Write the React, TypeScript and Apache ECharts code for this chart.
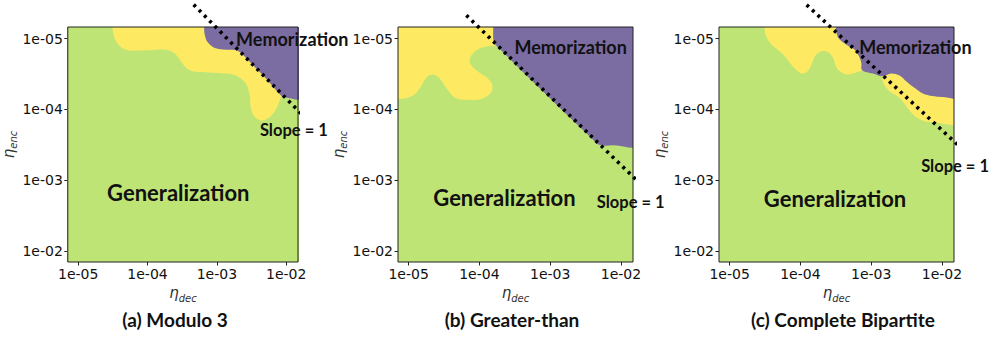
import React, { useEffect, useRef } from 'react';
import * as echarts from 'echarts';

// Axes are log10(learning rate)
const xExtent = [-5.15, -1.83];
const yExtent = [-5.165, -1.845];
const tickExponents = [-5, -4, -3, -2];
const tickLabels = ['1e-05', '1e-04', '1e-03', '1e-02'];
const panelTitles = ['(a) Modulo 3', '(b) Greater-than', '(c) Complete Bipartite'];

// Whole domain (generalization background), [log10 eta_dec, log10 eta_enc]
const domainOutline = [[-6, -6], [-1, -6], [-1, -1], [-6, -1]];

// Panel (a) Modulo 3
const purpleA = [[-3.184, -5.269], [-3.184, -5.165], [-3.175, -5.057], [-3.132, -4.948], [-3.028, -4.868], [-2.863, -4.844], [-2.722, -4.835], [-2.627, -4.774], [-2.509, -4.656], [-2.368, -4.514], [-2.226, -4.363], [-2.108, -4.231], [-2.038, -4.175], [-1.708, -4.175], [-1.708, -5.269]];
const yellowA = [[-4.528, -5.269], [-2.038, -5.269], [-2.014, -4.278], [-2.075, -4.175], [-2.123, -4.052], [-2.217, -3.91], [-2.344, -3.844], [-2.453, -3.892], [-2.509, -4.019], [-2.528, -4.208], [-2.594, -4.382], [-2.745, -4.486], [-2.981, -4.514], [-3.264, -4.528], [-3.406, -4.561], [-3.5, -4.656], [-3.604, -4.788], [-3.736, -4.844], [-4.019, -4.835], [-4.278, -4.835], [-4.406, -4.901], [-4.481, -5.024], [-4.509, -5.165]];
const slopeA = [[-3.335, -5.481], [-1.769, -3.925]];

// Panel (b) Greater-than
const purpleB = [[-3.805, -5.269], [-3.805, -5.165], [-3.8, -4.962], [-3.767, -4.906], [-2.342, -3.524], [-2.271, -3.491], [-2.107, -3.495], [-1.732, -3.509], [-1.732, -5.269]];
const yellowB = [[-5.248, -5.269], [-3.786, -5.269], [-3.786, -4.948], [-3.772, -4.906], [-3.889, -4.892], [-4.03, -4.844], [-4.123, -4.75], [-4.133, -4.656], [-4.053, -4.561], [-3.889, -4.443], [-3.819, -4.349], [-3.842, -4.231], [-3.983, -4.146], [-4.17, -4.137], [-4.334, -4.16], [-4.451, -4.278], [-4.545, -4.42], [-4.639, -4.491], [-4.733, -4.467], [-4.827, -4.325], [-4.92, -4.208], [-5.038, -4.16], [-5.131, -4.151], [-5.248, -4.151]];
const slopeB = [[-4.184, -5.33], [-1.709, -2.934]];

// Panel (c) Complete Bipartite
const purpleC = [[-3.5, -5.267], [-3.5, -5.164], [-3.49, -5.08], [-3.453, -4.995], [-3.35, -4.916], [-3.233, -4.845], [-3.172, -4.752], [-3.139, -4.658], [-3.129, -4.555], [-2.975, -4.508], [-2.843, -4.47], [-2.717, -4.508], [-2.6, -4.48], [-2.506, -4.4], [-2.389, -4.306], [-2.271, -4.226], [-2.131, -4.189], [-1.99, -4.175], [-1.615, -4.175], [-1.615, -5.267]];
const yellowC1 = [[-4.508, -5.267], [-3.35, -5.267], [-3.115, -4.564], [-3.172, -4.536], [-3.256, -4.508], [-3.35, -4.494], [-3.444, -4.541], [-3.5, -4.611], [-3.537, -4.728], [-3.608, -4.808], [-3.701, -4.822], [-3.795, -4.752], [-3.842, -4.634], [-3.912, -4.526], [-3.983, -4.508], [-4.053, -4.555], [-4.147, -4.658], [-4.264, -4.798], [-4.405, -4.916], [-4.484, -5.033], [-4.508, -5.164]];
const yellowC2 = [[-2.853, -4.475], [-2.693, -4.555], [-1.615, -4.555], [-1.615, -3.823], [-2.178, -3.823], [-2.295, -3.851], [-2.412, -3.931], [-2.506, -4.048], [-2.6, -4.166], [-2.74, -4.259], [-2.825, -4.367], [-2.848, -4.447]];
const slopeC = [[-3.912, -5.478], [-1.685, -3.415]];

// Annotation anchors (data coords)
const notesA = [
  { text: 'Memorization', x: -2.723, y: -5.0, size: 18, align: 'left' },
  { text: 'Generalization', x: -3.557, y: -2.826, size: 22, align: 'center' },
  { text: 'Slope = 1', x: -2.379, y: -3.713, size: 16.5, align: 'left' },
];
const notesB = [
  { text: 'Memorization', x: -3.505, y: -4.883, size: 18, align: 'left' },
  { text: 'Generalization', x: -3.646, y: -2.755, size: 22, align: 'center' },
  { text: 'Slope = 1', x: -2.342, y: -2.699, size: 16.5, align: 'left' },
];
const notesC = [
  { text: 'Memorization', x: -3.17, y: -4.883, size: 18, align: 'left' },
  { text: 'Generalization', x: -3.511, y: -2.737, size: 22, align: 'center' },
  { text: 'Slope = 1', x: -2.294, y: -3.208, size: 16.5, align: 'left' },
];

const panels = [
  { yellow: [yellowA], purple: purpleA, slope: slopeA, notes: notesA },
  { yellow: [yellowB], purple: purpleB, slope: slopeB, notes: notesB },
  { yellow: [yellowC1, yellowC2], purple: purpleC, slope: slopeC, notes: notesC },
];

const GREEN = '#bfe476';
const YELLOW = '#fde962';
const PURPLE = '#7b6ca1';

const gridLefts = [63, 398, 719];
const GRID_TOP = 27;
const GRID_SIZE = 235;
const titleCenters = [175, 512, 843];
const TITLE_Y = 319;
const BOLD = 'Lato, "Open Sans", sans-serif';
const DEJAVU = 'DejaVu Sans';

function regionSeries(gi: number, points: number[][], color: string, smooth: number) {
  return {
    type: 'custom',
    coordinateSystem: 'cartesian2d',
    xAxisIndex: gi,
    yAxisIndex: gi,
    clip: true,
    silent: true,
    z: 2,
    data: [[-3.5, -3.5]],
    renderItem: (params: any, api: any) => ({
      type: 'polygon',
      shape: { points: points.map((p) => api.coord(p)), smooth },
      style: { fill: color, stroke: null },
    }),
  };
}

const axisName = (sub: string) => ({
  name: `{e|η}{s|${sub}}`,
  nameLocation: 'middle',
  nameTextStyle: {
    rich: {
      e: { fontFamily: DEJAVU, fontStyle: 'italic', fontSize: 15, color: '#333', lineHeight: 20, verticalAlign: 'middle' },
      s: { fontFamily: DEJAVU, fontStyle: 'italic', fontSize: 10, color: '#333', lineHeight: 14, verticalAlign: 'bottom' },
    },
  },
});

const tickFmt = (v: number) => {
  const i = tickExponents.indexOf(Math.round(v));
  return i >= 0 ? tickLabels[i] : '';
};

function buildOption() {
  const grid: any[] = [];
  const xAxis: any[] = [];
  const yAxis: any[] = [];
  const series: any[] = [];
  panels.forEach((p, i) => {
    grid.push({
      left: gridLefts[i], top: GRID_TOP, width: GRID_SIZE, height: GRID_SIZE,
      show: true, z: 10, backgroundColor: 'transparent', borderColor: '#222', borderWidth: 1,
    });
    const common = {
      gridIndex: i,
      type: 'value',
      axisLine: { show: false },
      splitLine: { show: false },
      axisTick: { show: true, customValues: tickExponents, length: 3.5, lineStyle: { color: '#222', width: 1 } },
      axisLabel: {
        customValues: tickExponents, formatter: tickFmt,
        fontFamily: DEJAVU, fontSize: 14, color: '#111', margin: 5,
      },
    };
    xAxis.push({ ...common, min: xExtent[0], max: xExtent[1], ...axisName('dec'), nameGap: 16 });
    yAxis.push({ ...common, min: yExtent[0], max: yExtent[1], inverse: true, ...axisName('enc'), nameGap: 37 });

    series.push(regionSeries(i, domainOutline, GREEN, 0));
    p.yellow.forEach((y) => series.push(regionSeries(i, y, YELLOW, 0.35)));
    series.push(regionSeries(i, p.purple, PURPLE, 0.35));
    series.push({
      type: 'line', xAxisIndex: i, yAxisIndex: i, data: p.slope, symbol: 'none', clip: false, silent: true, z: 12,
      lineStyle: { color: '#000', width: 3.6, type: [3, 4.5], cap: 'butt' },
    });
    const notes = p.notes;
    series.push({
      type: 'custom', coordinateSystem: 'cartesian2d', xAxisIndex: i, yAxisIndex: i, clip: false, silent: true, z: 15,
      data: notes.map((n) => [n.x, n.y]),
      renderItem: (params: any, api: any) => {
        const n = notes[params.dataIndex];
        const pt = api.coord([api.value(0), api.value(1)]);
        return {
          type: 'text', x: pt[0], y: pt[1],
          style: { text: n.text, fill: '#111', fontFamily: BOLD, fontWeight: 'bold', fontSize: n.size, align: n.align, verticalAlign: 'middle' },
        };
      },
    });
  });

  const graphic = panelTitles.map((t, i) => ({
    type: 'text', x: titleCenters[i], y: TITLE_Y, z: 20,
    style: { text: t, fill: '#111', fontFamily: BOLD, fontWeight: 'bold', fontSize: 19, align: 'center', verticalAlign: 'middle' },
  }));

  return { animation: false, backgroundColor: '#fff', grid, xAxis, yAxis, series, graphic };
}

export default function App() {
  const ref = useRef<HTMLDivElement>(null);
  useEffect(() => {
    if (!ref.current) return;
    const chart = echarts.init(ref.current, undefined, { renderer: 'svg' });
    chart.setOption(buildOption() as any);
    return () => chart.dispose();
  }, []);
  return <div ref={ref} style={{ position: 'fixed', left: 0, top: 0, width: 990, height: 337, background: '#fff' }} />;
}
